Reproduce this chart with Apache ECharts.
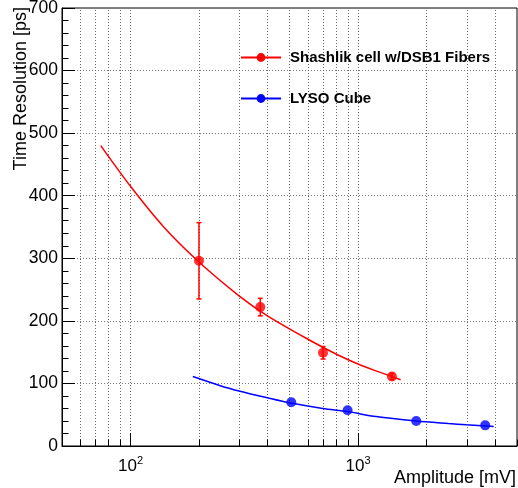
<!DOCTYPE html>
<html><head><meta charset="utf-8">
<script src="https://cdn.jsdelivr.net/npm/echarts@6/dist/echarts.min.js"></script>
<style>html,body{margin:0;padding:0;background:#fff}#c{width:518px;height:488px}</style>
</head><body><div id="c"></div>
<script>
const seriesNames = ['Shashlik cell w/DSB1 Fibers', 'LYSO Cube'];
// measured points
const shashlikX = [200, 372, 702, 1410];
const shashlikY = [296, 222, 149, 111];
const shashlikErr = [61, 14, 10, 5];
const lysoX = [509, 900, 1803, 3624];
const lysoY = [70, 57, 40, 33];
// fitted curves
const shashlikFitX = [74, 100, 140, 200, 300, 400, 600, 800, 1000, 1200, 1540];
const shashlikFitY = [480, 415, 350, 294, 240, 208, 171, 147, 131, 120, 106];
const lysoFitX = [188, 250, 300, 400, 500, 700, 900, 1200, 1800, 2500, 3000, 3600, 3950];
const lysoFitY = [111, 96, 88, 77, 69, 60, 55, 47, 40, 36, 34, 32.5, 31];
// axis ticks
const xTickValues = [50,60,70,80,90,100,200,300,400,500,600,700,800,900,1000,2000,3000,4000,5000];
const xMajorTicks = [100, 1000];
const yMin = 0, yMax = 700, yStep = 100;

const FONT = 'Liberation Sans, Arial, Helvetica, sans-serif';
const RED = '#ff0000', BLUE = '#0000ff';

const chart = echarts.init(document.getElementById('c'), null, {renderer: 'canvas'});
const zip = (a, b) => a.map((v, i) => [v, b[i]]);

chart.setOption({
  animation: false,
  backgroundColor: '#fff',
  grid: {left: 62, right: 1, top: 8, bottom: 42, show: true, borderColor: '#000', borderWidth: 1,
         backgroundColor: 'transparent', containLabel: false, outerBoundsMode: 'none'},
  legend: {
    data: seriesNames, orient: 'vertical', left: 235, top: 45,
    itemWidth: 40, itemHeight: 11, itemGap: 26, selectedMode: false,
    textStyle: {fontFamily: FONT, fontWeight: 'bold', fontSize: 15, color: '#000', padding: [0, 0, 0, 4]}
  },
  xAxis: {
    type: 'log', logBase: 10, min: 50, max: 5000,
    axisLine: {lineStyle: {color: '#000', width: 1}},
    axisTick: {show: false}, splitLine: {show: false}, minorTick: {show: false}, minorSplitLine: {show: false},
    axisLabel: {
      formatter: v => { const e = Math.log10(v); const r = Math.round(e); return Math.abs(e - r) < 1e-6 ? '{b|10}{s|' + r + '}' : ''; },
      margin: 9,
      rich: {
        b: {fontFamily: FONT, fontSize: 17, color: '#000', lineHeight: 20, verticalAlign: 'bottom'},
        s: {fontFamily: FONT, fontSize: 11, color: '#000', lineHeight: 12, verticalAlign: 'top'}
      }
    },
    name: 'Amplitude [mV]', nameLocation: 'end', nameGap: -1,
    nameTextStyle: {fontFamily: FONT, fontSize: 18, color: '#000', align: 'right', verticalAlign: 'top', padding: [23, 0, 0, 0]}
  },
  yAxis: {
    type: 'value', min: yMin, max: yMax, interval: yStep,
    axisLine: {show: true, lineStyle: {color: '#000', width: 1}},
    axisTick: {show: true, inside: true, length: 13, lineStyle: {color: '#000'}},
    minorTick: {show: true, splitNumber: 5, length: 6.5, lineStyle: {color: '#000'}},
    splitLine: {show: true, lineStyle: {color: '#777', width: 1, type: [1, 2]}},
    axisLabel: {fontFamily: FONT, fontSize: 17.5, color: '#000', margin: 4},
    name: 'Time Resolution [ps]', nameLocation: 'end', nameRotate: 90, nameGap: 1, nameMoveOverlap: false,
    nameTextStyle: {fontFamily: FONT, fontSize: 18, color: '#000', align: 'right', verticalAlign: 'bottom', padding: [0, 0, 32, 0]}
  },
  series: [
    {
      type: 'custom', silent: true, z: 1,
      data: xTickValues.map(v => [v, 0]), encode: {x: 0, y: 1},
      renderItem(params, api) {
        const v = api.value(0);
        const b = api.coord([v, yMin]);
        const t = api.coord([v, yMax]);
        const x = Math.round(b[0]) + 0.5;
        const major = xMajorTicks.indexOf(v) >= 0;
        const ch = [];
        if (v > 50 && v < 5000) ch.push({type: 'line', shape: {x1: x, y1: b[1], x2: x, y2: t[1]}, style: {stroke: '#666', lineWidth: 1, lineDash: [1, 2]}});
        ch.push({type: 'line', shape: {x1: x, y1: b[1], x2: x, y2: b[1] - (major ? 13 : 6.5)}, style: {stroke: '#000', lineWidth: 1}});
        return {type: 'group', children: ch};
      }
    },
    {
      name: seriesNames[0], type: 'line', data: zip(shashlikFitX, shashlikFitY), smooth: 0.3,
      symbol: 'circle', symbolSize: 10, showSymbol: false, z: 3,
      lineStyle: {color: RED, width: 1.5}, itemStyle: {color: RED}
    },
    {
      name: seriesNames[1], type: 'line', data: zip(lysoFitX, lysoFitY), smooth: 0.3,
      symbol: 'circle', symbolSize: 10, showSymbol: false, z: 3,
      lineStyle: {color: BLUE, width: 1.5}, itemStyle: {color: BLUE}
    },
    {
      type: 'custom', z: 4,
      data: shashlikX.map((x, i) => [x, shashlikY[i] - shashlikErr[i], shashlikY[i] + shashlikErr[i]]),
      encode: {x: 0, y: [1, 2]},
      renderItem(params, api) {
        const lo = api.coord([api.value(0), api.value(1)]);
        const hi = api.coord([api.value(0), api.value(2)]);
        const st = {stroke: RED, lineWidth: 1.5};
        return {type: 'group', children: [
          {type: 'line', shape: {x1: lo[0], y1: lo[1], x2: hi[0], y2: hi[1]}, style: st},
          {type: 'line', shape: {x1: lo[0] - 2.5, y1: lo[1], x2: lo[0] + 2.5, y2: lo[1]}, style: st},
          {type: 'line', shape: {x1: hi[0] - 2.5, y1: hi[1], x2: hi[0] + 2.5, y2: hi[1]}, style: st}
        ]};
      }
    },
    {
      name: seriesNames[0], type: 'scatter', data: zip(shashlikX, shashlikY), symbol: 'circle', symbolSize: 10, z: 5,
      itemStyle: {color: RED}
    },
    {
      name: seriesNames[1], type: 'scatter', data: zip(lysoX, lysoY), symbol: 'circle', symbolSize: 10, z: 5,
      itemStyle: {color: BLUE}
    }
  ]
});
</script></body></html>
